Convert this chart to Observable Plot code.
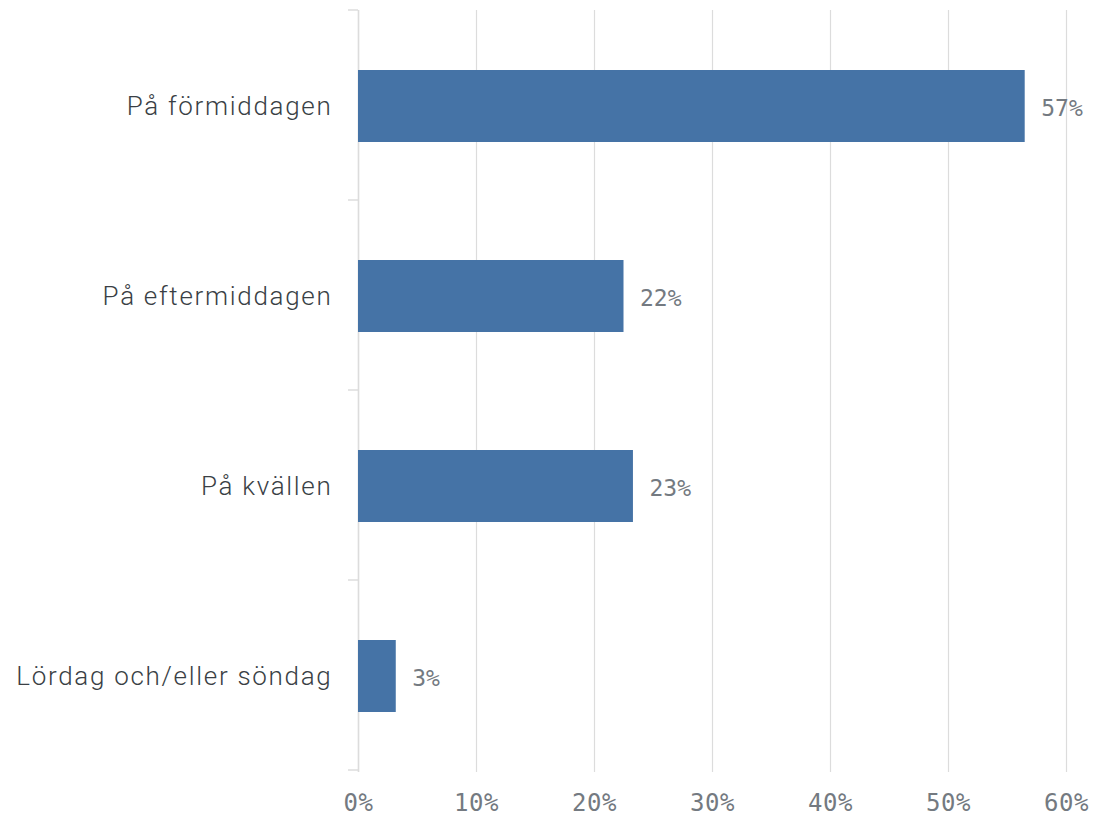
<!DOCTYPE html>
<html>
<head>
<meta charset="utf-8">
<script src="https://cdn.jsdelivr.net/npm/d3@7"></script>
<script src="https://cdn.jsdelivr.net/npm/@observablehq/plot@0.6"></script>
<style>
  html, body { margin: 0; padding: 0; background: #fff; }
  #chart svg { display: block; }
  g[aria-label="y-axis tick label"] text { letter-spacing: 1.7px; }
  g[aria-label="x-axis tick label"] text { letter-spacing: 0.5px; }
</style>
</head>
<body>
<div id="chart"></div>
<script>
const categories = ["På förmiddagen", "På eftermiddagen", "På kvällen", "Lördag och/eller söndag"];
const values = [56.5, 22.5, 23.3, 3.2];
const valueLabels = ["57%", "22%", "23%", "3%"];
const xTicks = [0, 10, 20, 30, 40, 50, 60];

const data = categories.map((c, i) => ({category: c, value: values[i], label: valueLabels[i]}));

const barColor = "#4573a6";
const gridColor = "#dcdcdc";

const plot = Plot.plot({
  width: 1096,
  height: 816,
  marginLeft: 358,
  marginRight: 30,
  marginTop: 10,
  marginBottom: 44,
  style: {background: "#fff", overflow: "visible"},
  x: {domain: [0, 60], ticks: xTicks, label: null},
  y: {domain: categories, label: null, paddingInner: 0.62, paddingOuter: 0.31},
  marks: [
    Plot.gridX(xTicks, {stroke: gridColor, strokeOpacity: 1, strokeWidth: 1.2}),
    Plot.axisX(xTicks, {
      tickSize: 0, tickPadding: 21, tickFormat: d => d + "%",
      fontSize: 24, fill: "#747a81", fontFamily: "DejaVu Sans Mono", stroke: null
    }),
    Plot.axisY({
      tickSize: 0, tickPadding: 26, fontSize: 26, fill: "#3a3f45",
      fontFamily: "Roboto", fontWeight: 300
    }),
    Plot.ruleX([0], {stroke: gridColor, strokeWidth: 1.5}),
    Plot.barX(data, {y: "category", x: "value", fill: barColor}),
    Plot.text(data, {
      y: "category", x: "value", text: "label", textAnchor: "start", dx: 16, dy: 2,
      fontSize: 23, fill: "#747a81", fontFamily: "DejaVu Sans Mono"
    })
  ]
});

document.getElementById("chart").appendChild(plot);

// band-boundary tick marks on the y axis, derived from the y scale
const ys = plot.scale("y");
const xs = plot.scale("x");
const x0 = xs.apply(0);
const [r0] = ys.range;
const svg = d3.select(plot);
const boundaries = d3.range(categories.length + 1).map(k => r0 + k * ys.step);
svg.append("g")
  .selectAll("line")
  .data(boundaries)
  .join("line")
  .attr("x1", x0 - 10).attr("x2", x0)
  .attr("y1", d => d).attr("y2", d => d)
  .attr("stroke", gridColor).attr("stroke-width", 1.5);
</script>
</body>
</html>
